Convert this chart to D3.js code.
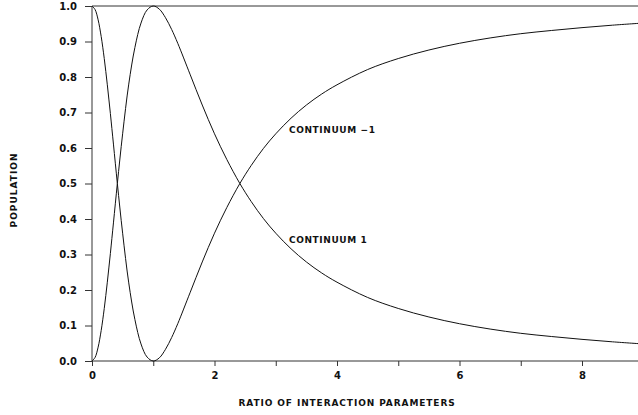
<!DOCTYPE html>
<html>
<head>
<meta charset="utf-8">
<script src="https://cdn.jsdelivr.net/npm/d3@7"></script>
<style>
  html, body { margin: 0; padding: 0; background: #fff; }
  svg { display: block; }
  text { font-family: "DejaVu Sans", "Liberation Sans", sans-serif; fill: #111; }
</style>
</head>
<body>
<svg id="chart" width="638" height="415"></svg>
<script>
// ---- data ----
const xValues = [0, 0.05, 0.1, 0.15, 0.2, 0.25, 0.3, 0.35, 0.414, 0.5, 0.6, 0.7, 0.8, 0.9, 1,
  1.1, 1.2, 1.3, 1.4, 1.6, 1.8, 2, 2.2, 2.414, 2.6, 2.8, 3, 3.25, 3.5, 3.75, 4,
  4.5, 5, 5.5, 6, 6.5, 7, 7.5, 8, 8.5, 9];
// curve that peaks at x = 1 then decays ("CONTINUUM 1")
const continuum1 = [0, 0.01, 0.039, 0.086, 0.148, 0.222, 0.303, 0.389, 0.5, 0.64, 0.78, 0.883, 0.952, 0.989, 1.0,
  0.991, 0.967, 0.934, 0.895, 0.808, 0.721, 0.64, 0.568, 0.5, 0.449, 0.401, 0.36, 0.316, 0.279, 0.248, 0.222,
  0.179, 0.148, 0.124, 0.105, 0.09, 0.078, 0.069, 0.061, 0.054, 0.048];
// curve that falls to 0 at x = 1 then rises ("CONTINUUM -1")
const continuumMinus1 = [1, 0.99, 0.961, 0.914, 0.852, 0.778, 0.697, 0.611, 0.5, 0.36, 0.22, 0.117, 0.048, 0.011, 0,
  0.009, 0.033, 0.066, 0.105, 0.192, 0.279, 0.36, 0.432, 0.5, 0.551, 0.599, 0.64, 0.684, 0.721, 0.752, 0.778,
  0.821, 0.852, 0.876, 0.895, 0.91, 0.922, 0.931, 0.939, 0.946, 0.952];
const xTicks = [0, 1, 2, 3, 4, 5, 6, 7, 8, 9];
const xTickLabels = ["0", "", "2", "", "4", "", "6", "", "8", ""];
const yTicks = [0, 0.1, 0.2, 0.3, 0.4, 0.5, 0.6, 0.7, 0.8, 0.9, 1.0];
const yTickLabels = ["0.0", "0.1", "0.2", "0.3", "0.4", "0.5", "0.6", "0.7", "0.8", "0.9", "1.0"];
const xTitle = "RATIO OF INTERACTION PARAMETERS";
const yTitle = "POPULATION";
const labels = [
  { text: "CONTINUUM  \u22121", x: 3.2, y: 0.65 },
  { text: "CONTINUUM  1", x: 3.2, y: 0.34 }
];

// ---- drawing ----
const svg = d3.select("#chart");
const x = d3.scaleLinear().domain([0, 9]).range([92, 643.25]);
const y = d3.scaleLinear().domain([0, 1]).range([361, 6]);

const axisColor = "#333";

// x axis
const xAxis = svg.append("g").attr("transform", `translate(0,${y(0)})`)
  .call(d3.axisBottom(x).tickValues(xTicks).tickSize(5).tickPadding(6)
    .tickFormat((d, i) => xTickLabels[i]));
xAxis.select(".domain").attr("d", `M${x(0)},0H638`).attr("stroke", axisColor);
xAxis.selectAll(".tick line").attr("stroke", axisColor);
xAxis.selectAll(".tick text").attr("font-size", 10).attr("font-weight", "bold")
  .attr("font-family", "DejaVu Sans, sans-serif").attr("fill", "#111");

// y axis
const yAxis = svg.append("g").attr("transform", `translate(${x(0)},0)`)
  .call(d3.axisLeft(y).tickValues(yTicks).tickSize(7).tickPadding(8)
    .tickFormat((d, i) => yTickLabels[i]));
yAxis.select(".domain").attr("d", `M0,${y(0)}V${y(1)}`).attr("stroke", axisColor);
yAxis.selectAll(".tick line").attr("stroke", axisColor);
yAxis.selectAll(".tick text").attr("font-size", 10).attr("font-weight", "bold")
  .attr("font-family", "DejaVu Sans, sans-serif").attr("fill", "#111");

// top border at 1.0
svg.append("line").attr("x1", x(0)).attr("x2", 638).attr("y1", y(1)).attr("y2", y(1))
  .attr("stroke", axisColor).attr("stroke-width", 1);

// curves
const line = d3.line().x(d => x(d[0])).y(d => y(d[1])).curve(d3.curveCatmullRom.alpha(0.5));
[continuum1, continuumMinus1].forEach(series => {
  svg.append("path")
    .datum(xValues.map((xv, i) => [xv, series[i]]))
    .attr("d", line)
    .attr("fill", "none")
    .attr("stroke", "#111")
    .attr("stroke-width", 1);
});

// curve labels
labels.forEach(l => {
  svg.append("text").attr("x", x(l.x) + 1).attr("y", y(l.y) + 3)
    .attr("font-size", 9).attr("font-weight", "bold").attr("letter-spacing", 0.6)
    .text(l.text);
});

// axis titles
svg.append("text").attr("x", 347).attr("y", 406).attr("text-anchor", "middle")
  .attr("font-size", 9).attr("font-weight", "bold").attr("letter-spacing", 0.9)
  .text(xTitle);
svg.append("text").attr("transform", "translate(17,190) rotate(-90)")
  .attr("text-anchor", "middle")
  .attr("font-size", 9).attr("font-weight", "bold").attr("letter-spacing", 1)
  .text(yTitle);
</script>
</body>
</html>
